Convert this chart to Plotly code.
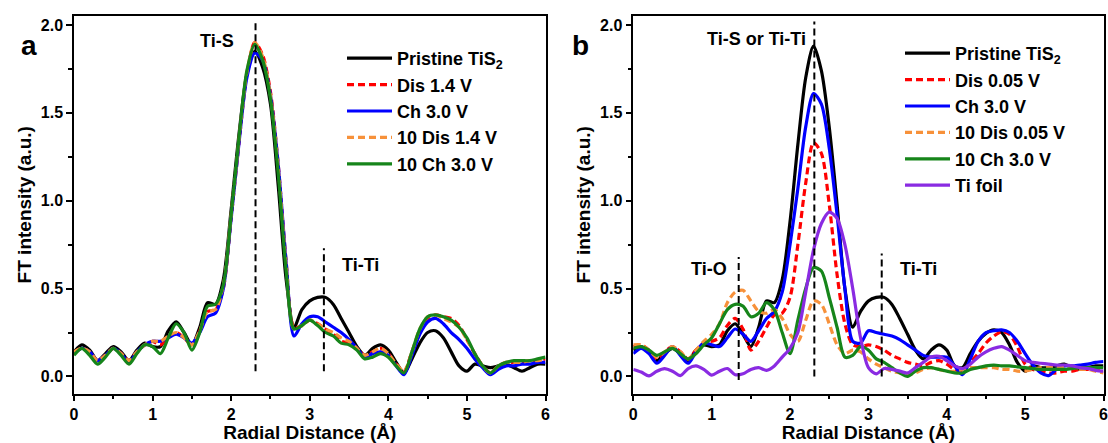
import plotly.graph_objects as go

R = [round(0.1 * i, 1) for i in range(61)]

# Panel a
a_pristine = [0.14, 0.18, 0.15, 0.09, 0.13, 0.17, 0.14, 0.09, 0.15, 0.19,
              0.17, 0.17, 0.26, 0.31, 0.25, 0.18, 0.28, 0.42, 0.41, 0.55,
              0.95, 1.38, 1.72, 1.85, 1.76, 1.55, 1.08, 0.55, 0.28, 0.38,
              0.43, 0.45, 0.45, 0.41, 0.33, 0.25, 0.17, 0.12, 0.16, 0.18,
              0.15, 0.08, 0.02, 0.10, 0.19, 0.25, 0.26, 0.22, 0.14, 0.06,
              0.03, 0.07, 0.06, 0.05, 0.06, 0.07, 0.05, 0.03, 0.05, 0.07, 0.07]
a_dis = [0.13, 0.16, 0.14, 0.09, 0.12, 0.16, 0.13, 0.09, 0.14, 0.18,
         0.20, 0.18, 0.22, 0.25, 0.22, 0.18, 0.26, 0.37, 0.38, 0.50,
         0.90, 1.33, 1.72, 1.90, 1.83, 1.62, 1.20, 0.65, 0.28, 0.29,
         0.32, 0.30, 0.27, 0.24, 0.20, 0.19, 0.16, 0.12, 0.14, 0.16,
         0.13, 0.07, 0.03, 0.14, 0.26, 0.33, 0.35, 0.34, 0.33, 0.29,
         0.21, 0.13, 0.06, 0.02, 0.06, 0.08, 0.08, 0.08, 0.09, 0.09, 0.10]
a_ch = [0.13, 0.16, 0.14, 0.09, 0.12, 0.16, 0.13, 0.08, 0.14, 0.18,
        0.20, 0.20, 0.22, 0.24, 0.22, 0.19, 0.25, 0.34, 0.36, 0.50,
        0.90, 1.33, 1.70, 1.84, 1.80, 1.60, 1.20, 0.65, 0.23, 0.30,
        0.34, 0.34, 0.31, 0.28, 0.25, 0.21, 0.16, 0.11, 0.13, 0.14,
        0.12, 0.06, 0.01, 0.12, 0.24, 0.31, 0.33, 0.30, 0.25, 0.21,
        0.16, 0.10, 0.05, 0.01, 0.04, 0.06, 0.06, 0.07, 0.07, 0.08, 0.08]
a_dis10 = [0.14, 0.16, 0.14, 0.09, 0.12, 0.16, 0.13, 0.09, 0.14, 0.18,
           0.20, 0.20, 0.23, 0.25, 0.22, 0.18, 0.26, 0.37, 0.38, 0.52,
           0.92, 1.35, 1.73, 1.90, 1.82, 1.60, 1.18, 0.63, 0.27, 0.29,
           0.32, 0.30, 0.27, 0.25, 0.22, 0.20, 0.16, 0.12, 0.14, 0.16,
           0.13, 0.07, 0.03, 0.14, 0.27, 0.34, 0.35, 0.33, 0.31, 0.28,
           0.21, 0.13, 0.06, 0.02, 0.06, 0.08, 0.08, 0.08, 0.09, 0.09, 0.10]
a_ch10 = [0.12, 0.16, 0.12, 0.07, 0.11, 0.16, 0.12, 0.07, 0.13, 0.18,
          0.17, 0.13, 0.22, 0.30, 0.25, 0.15, 0.25, 0.40, 0.41, 0.52,
          0.92, 1.36, 1.74, 1.89, 1.80, 1.58, 1.15, 0.60, 0.27, 0.29,
          0.32, 0.29, 0.25, 0.23, 0.19, 0.18, 0.15, 0.10, 0.11, 0.13,
          0.11, 0.06, 0.02, 0.14, 0.27, 0.34, 0.35, 0.34, 0.32, 0.28,
          0.22, 0.13, 0.06, 0.02, 0.06, 0.08, 0.09, 0.09, 0.09, 0.10, 0.11]

# Panel b
b_pristine = [0.15, 0.17, 0.14, 0.09, 0.13, 0.16, 0.13, 0.09, 0.15, 0.18,
              0.17, 0.18, 0.26, 0.30, 0.24, 0.17, 0.28, 0.43, 0.42, 0.55,
              0.88, 1.32, 1.70, 1.88, 1.74, 1.42, 0.98, 0.50, 0.28, 0.37,
              0.43, 0.45, 0.45, 0.41, 0.33, 0.24, 0.15, 0.10, 0.15, 0.18,
              0.15, 0.06, 0.05, 0.13, 0.20, 0.245, 0.265, 0.25, 0.18, 0.08,
              0.03, 0.06, 0.05, 0.05, 0.06, 0.07, 0.05, 0.04, 0.05, 0.06, 0.06]
b_dis = [0.17, 0.18, 0.15, 0.10, 0.14, 0.17, 0.14, 0.10, 0.15, 0.19,
         0.20, 0.22, 0.29, 0.33, 0.27, 0.15, 0.20, 0.28, 0.35, 0.36,
         0.45, 0.75, 1.10, 1.33, 1.27, 0.98, 0.58, 0.30, 0.18, 0.17,
         0.18, 0.17, 0.15, 0.12, 0.10, 0.08, 0.07, 0.06, 0.08, 0.09,
         0.07, 0.04, 0.03, 0.08, 0.13, 0.19, 0.23, 0.255, 0.24, 0.17,
         0.07, 0.04, 0.03, 0.02, 0.02, 0.03, 0.03, 0.04, 0.04, 0.04, 0.05]
b_ch = [0.13, 0.16, 0.13, 0.075, 0.12, 0.17, 0.12, 0.075, 0.14, 0.19,
        0.18, 0.17, 0.22, 0.27, 0.24, 0.20, 0.26, 0.33, 0.37, 0.48,
        0.75, 1.07, 1.42, 1.61, 1.55, 1.30, 0.92, 0.50, 0.20, 0.19,
        0.26, 0.25, 0.24, 0.23, 0.21, 0.18, 0.15, 0.12, 0.11, 0.11,
        0.11, 0.06, 0.01, 0.10, 0.20, 0.25, 0.26, 0.265, 0.25, 0.20,
        0.13, 0.065, 0.02, 0.005, 0.04, 0.06, 0.06, 0.065, 0.07, 0.08, 0.085]
b_dis10 = [0.18, 0.18, 0.15, 0.11, 0.14, 0.17, 0.14, 0.10, 0.15, 0.20,
           0.24, 0.30, 0.42, 0.48, 0.49, 0.43, 0.37, 0.36, 0.38, 0.33,
           0.24, 0.20, 0.32, 0.43, 0.41, 0.30, 0.18, 0.13, 0.15, 0.14,
           0.10, 0.07, 0.05, 0.03, 0.02, 0.01, 0.02, 0.04, 0.05, 0.04,
           0.03, 0.03, 0.04, 0.05, 0.05, 0.05, 0.05, 0.04, 0.04, 0.03,
           0.03, 0.04, 0.05, 0.05, 0.05, 0.05, 0.05, 0.04, 0.04, 0.03, 0.02]
b_ch10 = [0.16, 0.17, 0.15, 0.12, 0.14, 0.16, 0.13, 0.10, 0.13, 0.18,
          0.22, 0.30, 0.38, 0.41, 0.40, 0.34, 0.36, 0.42, 0.38, 0.25,
          0.13, 0.32, 0.50, 0.62, 0.60, 0.45, 0.28, 0.11, 0.12, 0.17,
          0.15, 0.10, 0.08, 0.05, 0.02, 0.00, 0.03, 0.05, 0.05, 0.04,
          0.03, 0.02, 0.02, 0.04, 0.05, 0.06, 0.065, 0.06, 0.06, 0.055,
          0.05, 0.045, 0.04, 0.04, 0.04, 0.04, 0.045, 0.05, 0.05, 0.05, 0.05]
b_foil = [0.04, 0.025, 0.003, 0.03, 0.045, 0.03, 0.005, 0.045, 0.06, 0.04,
          0.008, 0.03, 0.045, 0.01, 0.015, 0.04, 0.05, 0.035, 0.06, 0.11,
          0.16, 0.25, 0.48, 0.72, 0.87, 0.935, 0.90, 0.75, 0.50, 0.22,
          0.05, 0.015, 0.045, 0.04, 0.03, 0.02, 0.05, 0.08, 0.11, 0.115,
          0.09, 0.06, 0.045, 0.07, 0.11, 0.14, 0.16, 0.17, 0.15, 0.12,
          0.09, 0.08, 0.075, 0.07, 0.065, 0.065, 0.06, 0.05, 0.045, 0.035, 0.03]

names_a = ["Pristine TiS<sub>2</sub>", "Dis 1.4 V", "Ch 3.0 V", "10 Dis 1.4 V", "10 Ch 3.0 V"]
names_b = ["Pristine TiS<sub>2</sub>", "Dis 0.05 V", "Ch 3.0 V", "10 Dis 0.05 V", "10 Ch 3.0 V", "Ti foil"]
series_a = [a_pristine, a_dis, a_ch, a_dis10, a_ch10]
series_b = [b_pristine, b_dis, b_ch, b_dis10, b_ch10, b_foil]
colors = ["#000000", "#ff0000", "#0000ff", "#f7913a", "#16851a", "#8a2be2"]
dashes = ["solid", "7px,4px", "solid", "7px,4px", "solid", "solid"]

FONT = "Liberation Sans, Arial, sans-serif"

fig = go.Figure()
for i, (nm, ys) in enumerate(zip(names_a, series_a)):
    fig.add_trace(go.Scatter(x=R, y=ys, name=nm, mode="lines",
                             line=dict(color=colors[i], width=3.2, dash=dashes[i], shape="spline", smoothing=0.8),
                             xaxis="x", yaxis="y", legend="legend"))
for i, (nm, ys) in enumerate(zip(names_b, series_b)):
    fig.add_trace(go.Scatter(x=R, y=ys, name=nm, mode="lines",
                             line=dict(color=colors[i], width=3.2, dash=dashes[i], shape="spline", smoothing=0.8),
                             xaxis="x2", yaxis="y2", legend="legend2"))

W, H = 1108, 443
ydom = [1 - 393.5 / H, 1 - 16 / H]
tickfont = dict(family=FONT, size=16, color="black", weight="bold")
titlefont = dict(family=FONT, size=19, color="black", weight="bold")


def xax(dom, anchor):
    return dict(domain=dom, range=[0, 6], dtick=1, tick0=0, anchor=anchor,
                showline=True, linecolor="black", linewidth=1.5, mirror=True,
                ticks="outside", ticklen=6, tickwidth=1.5, tickcolor="black",
                minor=dict(ticks="outside", ticklen=4, tickwidth=1.5, dtick=0.5, tickcolor="black"),
                showgrid=False, zeroline=False, tickfont=tickfont, ticklabeloverflow="allow",
                title=dict(text="Radial Distance (Å)", font=titlefont, standoff=0),
                automargin=False)


def yax(anchor):
    return dict(domain=ydom, range=[-0.097, 2.051], dtick=0.5, tick0=0, anchor=anchor,
                tickformat=".1f",
                showline=True, linecolor="black", linewidth=1.5, mirror=True,
                ticks="outside", ticklen=6, tickwidth=1.5, tickcolor="black",
                minor=dict(ticks="outside", ticklen=4, tickwidth=1.5, dtick=0.25, tickcolor="black"),
                showgrid=False, zeroline=False, tickfont=tickfont, ticklabeloverflow="allow",
                title=dict(text="FT intensity (a.u.)", font=titlefont, standoff=4),
                automargin=False)


legfont = dict(family=FONT, size=18, color="black", weight="bold")
fig.update_layout(
    width=W, height=H, margin=dict(l=0, r=0, t=0, b=0),
    template="none", paper_bgcolor="white", plot_bgcolor="white",
    showlegend=True,
    xaxis=xax([74 / W, 545.5 / W], "y"),
    yaxis=yax("x"),
    xaxis2=xax([633.3 / W, 1103.5 / W], "y2"),
    yaxis2=yax("x2"),
    legend=dict(x=342 / W, y=1 - 40 / H, xanchor="left", yanchor="top", font=legfont,
                bgcolor="rgba(0,0,0,0)", itemwidth=45, tracegroupgap=0, traceorder="normal"),
    legend2=dict(x=900 / W, y=1 - 35 / H, xanchor="left", yanchor="top", font=legfont,
                 bgcolor="rgba(0,0,0,0)", itemwidth=45, tracegroupgap=0, traceorder="normal"),
)

vlines = [("x", "y", 2.31, 0.03, 2.02), ("x", "y", 3.18, 0.03, 0.73),
          ("x2", "y2", 1.345, -0.02, 0.68), ("x2", "y2", 2.31, 0.0, 2.02), ("x2", "y2", 3.17, 0.0, 0.70)]
for xr, yr, xv, y0, y1 in vlines:
    fig.add_shape(type="line", xref=xr, yref=yr, x0=xv, x1=xv, y0=y0, y1=y1,
                  line=dict(color="black", width=2, dash="7px,4px"))

annfont = dict(family=FONT, size=18, color="black", weight="bold")
labels = [("x", "y", 1.82, 1.91, "Ti-S"), ("x", "y", 3.64, 0.635, "Ti-Ti"),
          ("x2", "y2", 1.57, 1.92, "Ti-S or Ti-Ti"), ("x2", "y2", 0.97, 0.61, "Ti-O"),
          ("x2", "y2", 3.64, 0.61, "Ti-Ti")]
for xr, yr, xv, yv, t in labels:
    fig.add_annotation(x=xv, y=yv, xref=xr, yref=yr, text=t, showarrow=False, font=annfont)

panfont = dict(family=FONT, size=28, color="black", weight="bold")
fig.add_annotation(x=19 / W, y=1 - 28 / H, xref="paper", yref="paper", text="a", showarrow=False, font=panfont)
fig.add_annotation(x=580 / W, y=1 - 28 / H, xref="paper", yref="paper", text="b", showarrow=False, font=panfont)

fig.write_html("out.html")
